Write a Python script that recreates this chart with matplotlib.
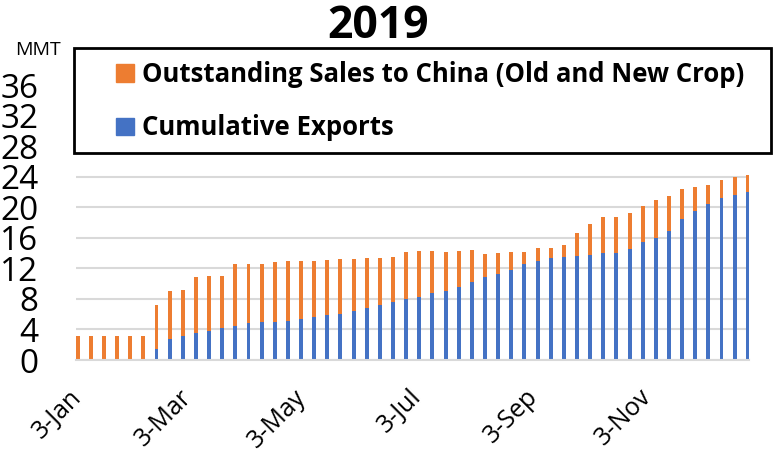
import matplotlib
matplotlib.use("Agg")
import matplotlib.pyplot as plt
import matplotlib.dates as mdates
from matplotlib.patches import Patch, Rectangle
import pandas as pd

plt.rcParams['font.family'] = ['Open Sans', 'DejaVu Sans']

# weekly report dates (Thursdays), 2019
weeks = pd.date_range('2019-01-03', periods=52, freq='7D')

# cumulative exports to China, MMT
exports = [0, 0, 0, 0, 0, 0, 1.40, 2.79, 3.18, 3.58, 3.80, 4.15, 4.50,
           4.84, 4.97, 5.02, 5.15, 5.37, 5.63, 5.85, 6.07, 6.37, 6.81, 7.16,
           7.64, 8.03, 8.25, 8.73, 9.08, 9.60, 10.17, 10.82, 11.21, 11.74,
           12.52, 12.96, 13.31, 13.53, 13.66, 13.79, 13.96, 13.96, 14.53,
           15.40, 16.00, 16.92, 18.45, 19.46, 20.38, 21.16, 21.56, 21.99]
# exports + outstanding sales (top of the stack), MMT
totals = [3.14, 3.14, 3.14, 3.14, 3.14, 3.14, 7.16, 8.99, 9.12, 10.82, 10.95,
          10.95, 12.61, 12.61, 12.61, 12.83, 12.96, 13.00, 13.00, 13.13, 13.22,
          13.26, 13.35, 13.35, 13.48, 14.14, 14.27, 14.27, 14.09, 14.22, 14.36,
          13.92, 14.01, 14.09, 14.09, 14.70, 14.70, 15.05, 16.67, 17.80, 18.67,
          18.72, 19.24, 20.20, 20.94, 21.50, 22.34, 22.64, 22.90, 23.56, 23.99,
          24.17]
outstanding = [t - e for t, e in zip(totals, exports)]

tick_dates = pd.to_datetime(['2019-01-03', '2019-03-03', '2019-05-03',
                             '2019-07-03', '2019-09-03', '2019-11-03'])
tick_labels = ['3-Jan', '3-Mar', '3-May', '3-Jul', '3-Sep', '3-Nov']

blue = '#4472C4'
orange = '#ED7D31'

fig = plt.figure(figsize=(7.76, 4.70), dpi=100)
ax = fig.add_axes([0.0979, 0.234, 0.8677, 0.650])

x = mdates.date2num(weeks)
ax.bar(x, exports, width=2.1, color=blue, zorder=2)
ax.bar(x, outstanding, width=2.1, bottom=exports, color=orange, zorder=2)

ax.set_ylim(0, 40)
ax.set_yticks(range(0, 37, 4))
ax.set_xlim(x[0] - 0.9, x[-1] + 0.8)
ax.set_xticks(mdates.date2num(tick_dates))
ax.set_xticklabels(tick_labels, rotation=45, ha='right', va='center',
                   rotation_mode='anchor', fontsize=18)

ax.tick_params(axis='y', length=0, pad=27, labelsize=24)
ax.tick_params(axis='x', length=0, pad=24)
ax.grid(axis='y', color='#d9d9d9', linewidth=1.5, zorder=0)
for s in ['top', 'right', 'left']:
    ax.spines[s].set_visible(False)
ax.spines['bottom'].set_color('#d9d9d9')
ax.spines['bottom'].set_linewidth(1.5)

fig.text(0.487, 0.943, '2019', ha='center', va='center', fontsize=32,
         fontweight='bold')
fig.text(0.049, 0.893, 'MMT', ha='center', va='center', fontsize=14)

# legend box
box = Rectangle((74 / 776, 1 - 152.7 / 470), 697 / 776, 105 / 470,
                transform=fig.transFigure, facecolor='white',
                edgecolor='black', linewidth=2, zorder=4)
fig.add_artist(box)

handles = [Patch(color=orange), Patch(color=blue)]
leg = fig.legend(handles,
                 ['Outstanding Sales to China (Old and New Crop)',
                  'Cumulative Exports'],
                 loc='upper left', bbox_to_anchor=(116 / 776, 1 - 61 / 470),
                 borderaxespad=0, borderpad=0, frameon=False,
                 handlelength=0.7, handleheight=0.66, handletextpad=0.31,
                 labelspacing=1.03, prop={'weight': 'bold', 'size': 18.5})
leg.set_zorder(5)

fig.savefig('out.png', dpi=100)
